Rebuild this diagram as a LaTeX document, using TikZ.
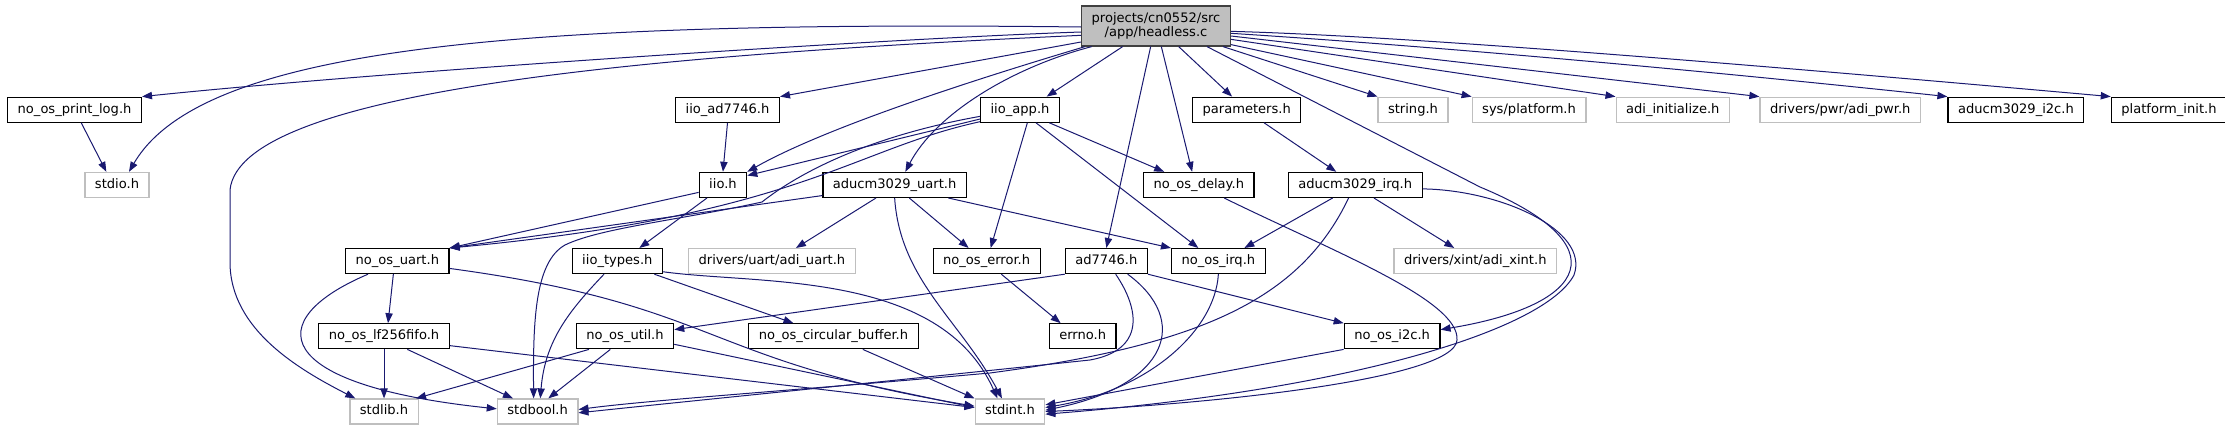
\documentclass[tikz,border=0pt]{standalone}
\usepackage{fontspec}
\setmainfont{DejaVu Sans}
\usepackage{xcolor}
\usepackage{tikz}
\usetikzlibrary{positioning,arrows.meta}

\definecolor{inclblue}{HTML}{191970}
\definecolor{lightframe}{HTML}{BFBFBF}
\definecolor{rootfill}{HTML}{BFBFBF}
\definecolor{rootframe}{HTML}{404040}

\begin{document}
\begin{tikzpicture}[
    x=0.75pt, y=-0.75pt,
    hfile/.style={
        rectangle,draw=black,fill=white,line width=0.9pt,
        minimum height=18.75pt,inner xsep=7.5pt,inner ysep=0pt,
        text height=7.2pt,text depth=2.2pt,
        font=\fontsize{9.8}{10.8}\selectfont
    },
    extfile/.style={hfile,draw=lightframe},
    mainfile/.style={
        hfile,draw=rootframe,fill=rootfill,
        minimum height=30pt,align=center,
        text height=,text depth=
    },
    incl/.style={draw=inclblue,line width=0.75pt,-{Triangle[length=7.5pt,width=5.5pt]}}
]
\useasboundingbox (0,0) rectangle (2225,425);

\node[mainfile] (hdr) at (1156,26) {projects/cn0552/src\\/app/headless.c};

\node[hfile, below left=37.5pt and 15.75pt of hdr] (iioapp) {iio\_app.h};
\node[hfile, right=99pt of iioapp] (params) {parameters.h};
\node[extfile, right=57pt of params] (string) {string.h};
\node[extfile, right=17.25pt of string] (sysplat) {sys/platform.h};
\node[extfile, right=21.75pt of sysplat] (adiinit) {adi\_initialize.h};
\node[extfile, right=22pt of adiinit] (adipwr) {drivers/pwr/adi\_pwr.h};
\node[hfile, right=19.75pt of adipwr] (aducmi2c) {aducm3029\_i2c.h};
\node[hfile, right=19.75pt of aducmi2c] (platinit) {platform\_init.h};
\node[hfile, left=150pt of iioapp] (iioad) {iio\_ad7746.h};
\node[hfile, left=399.75pt of iioad] (printlog) {no\_os\_print\_log.h};

\node[hfile, below left=36.75pt and 9.75pt of iioapp] (aducmuart) {aducm3029\_uart.h};
\node[hfile, left=56.25pt of aducmuart] (iio) {iio.h};
\node[extfile, left=411.75pt of iio] (stdio) {stdio.h};
\node[hfile, right=132pt of aducmuart] (delay) {no\_os\_delay.h};
\node[hfile, below=36.75pt of params, xshift=81.4pt] (aducmirq) {aducm3029\_irq.h};

\node[hfile, below left=37.5pt and 186.75pt of iio] (uart) {no\_os\_uart.h};
\node[hfile, right=91.5pt of uart] (iotypes) {iio\_types.h};
\node[extfile, right=18.75pt of iotypes] (adiuart) {drivers/uart/adi\_uart.h};
\node[hfile, below=37.5pt of aducmuart, xshift=69pt] (error) {no\_os\_error.h};
\node[hfile, right=18pt of error] (ad7746) {ad7746.h};
\node[hfile, right=17.25pt of ad7746] (irq) {no\_os\_irq.h};
\node[extfile, below=37.5pt of aducmirq, xshift=90pt] (adixint) {drivers/xint/adi\_xint.h};

\node[hfile, below=36.75pt of uart, xshift=-10pt] (lf) {no\_os\_lf256fifo.h};
\node[hfile, right=94.5pt of lf] (util) {no\_os\_util.h};
\node[hfile, right=55.5pt of util] (circ) {no\_os\_circular\_buffer.h};
\node[hfile, below=36.75pt of error, xshift=72pt] (errno) {errno.h};
\node[hfile, right=170.25pt of errno] (i2c) {no\_os\_i2c.h};

\node[extfile, below=36.75pt of lf] (stdlib) {stdlib.h};
\node[extfile, right=58.5pt of stdlib] (stdbool) {stdbool.h};
\node[extfile, right=297pt of stdbool] (stdint) {stdint.h};

\draw[incl] ([yshift=-4.5pt]hdr.west) .. controls (900,38) and (400,70) .. (printlog.north east);
\draw[incl] ([yshift=-0.75pt]hdr.west) .. controls (500,20) and (200,50) .. ([xshift=9pt]stdio.north);
\draw[incl] ([yshift=-7pt]hdr.west) .. controls (650,55) and (240,90) .. (230,190) -- (230,262) .. controls (230,330) and (300,370) .. ([xshift=4.5pt]stdlib.north west);
\draw[incl] ([yshift=-12pt]hdr.west) -- (iioad.north east);
\draw[incl] ([xshift=3pt]hdr.south west) .. controls (990,75) and (830,125) .. (iio.north east);
\draw[incl] ([xshift=8pt]hdr.south west) .. controls (1010,68) and (935,115) .. ([xshift=8pt]aducmuart.north);
\draw[incl] ([xshift=-25pt]hdr.south) -- ([xshift=20pt]iioapp.north);
\draw[incl] ([xshift=-4pt]hdr.south) -- (ad7746.north);
\draw[incl] ([xshift=4pt]hdr.south) -- ([xshift=-5pt]delay.north);
\draw[incl] ([xshift=17pt]hdr.south) -- ([xshift=-11pt]params.north);
\draw[incl] ([xshift=-18pt]hdr.south east) -- (1480,187) .. controls (1620,245) and (1590,305) .. ([yshift=5pt]i2c.east);
\draw[incl] ([xshift=-6pt]hdr.south east) -- (string.north west);
\draw[incl] ([yshift=1.5pt]hdr.south east) -- (sysplat.north west);
\draw[incl] ([yshift=-10pt]hdr.east) -- (adiinit.north west);
\draw[incl] ([yshift=-7.5pt]hdr.east) -- (adipwr.north west);
\draw[incl] ([yshift=-5.5pt]hdr.east) .. controls (1400,44) and (1650,65) .. (aducmi2c.north west);
\draw[incl] ([yshift=-4pt]hdr.east) .. controls (1400,36) and (1700,60) .. (platinit.north west);

\draw[incl] ([xshift=5pt]printlog.south) -- ([xshift=-8pt]stdio.north);
\draw[incl] (iioad.south) -- (iio.north);

\draw[incl] ([yshift=-7pt]iioapp.west) -- ([yshift=7pt]iio.east);
\draw[incl] ([yshift=-9pt]iioapp.west) .. controls (850,150) and (800,215) .. (uart.north east);
\draw[incl] ([yshift=-5pt]iioapp.west) .. controls (870,136) and (800,172) .. (762,202) .. controls (680,220) and (600,228) .. (565,245) .. controls (535,262) and (533,320) .. ([xshift=-3pt]stdbool.north);
\draw[incl] ([xshift=5.5pt]iioapp.south) -- ([xshift=3pt]error.north);
\draw[incl] ([xshift=12pt]iioapp.south) -- ([xshift=-15pt]irq.north);
\draw[incl] ([xshift=22pt]iioapp.south) -- ([xshift=-26pt]delay.north);

\draw[incl] ([yshift=-5.6pt]iio.west) -- (uart.north east);
\draw[incl] ([xshift=-12pt]iio.south) -- ([xshift=16.5pt]iotypes.north);

\draw[incl] ([yshift=-8pt]aducmuart.west) -- (uart.north east);
\draw[incl] ([xshift=-14pt]aducmuart.south) -- ([xshift=18pt]adiuart.north);
\draw[incl] ([xshift=11pt]aducmuart.south) -- ([xshift=-13.5pt]error.north);
\draw[incl] (aducmuart.south) .. controls (900,280) and (960,320) .. ([xshift=-6pt]stdint.north);
\draw[incl] ([xshift=-14pt]aducmuart.south east) -- (irq.north west);

\draw[incl] ([xshift=13pt]params.south) -- ([xshift=-14.25pt]aducmirq.north);
\draw[incl] ([xshift=19pt]delay.south) .. controls (1330,250) and (1460,300) .. (1457,340) .. controls (1455,380) and (1200,405) .. (stdint.east);

\draw[incl] ([xshift=-17pt]aducmirq.south) -- ([xshift=19.5pt]irq.north);
\draw[incl] ([xshift=-5pt]aducmirq.south) .. controls (1300,300) and (1200,345) .. (990,373) .. controls (800,390) and (650,400) .. ([yshift=1.5pt]stdbool.east);
\draw[incl] ([xshift=14pt]aducmirq.south) -- ([xshift=-15.75pt]adixint.north);
\draw[incl] ([yshift=-3pt]aducmirq.east) .. controls (1500,190) and (1590,230) .. (1574,275) .. controls (1545,330) and (1350,390) .. ([yshift=-2pt]stdint.east);

\draw[incl] ([xshift=-3pt]uart.south) -- ([xshift=3pt]lf.north);
\draw[incl] ([xshift=-22pt]uart.south) .. controls (260,320) and (270,385) .. ([yshift=2pt]stdbool.west);
\draw[incl] ([yshift=-5.5pt]uart.east) .. controls (720,305) and (700,360) .. ([yshift=4pt]stdint.west);

\draw[incl] ([xshift=-10pt]iotypes.south) .. controls (570,310) and (545,340) .. ([xshift=2pt]stdbool.north);
\draw[incl] ([xshift=27.75pt]iotypes.south) -- ([xshift=-30pt]circ.north);
\draw[incl] ([yshift=-8pt]iotypes.east) .. controls (760,285) and (940,270) .. ([xshift=-9.4pt]stdint.north);

\draw[incl] ([xshift=11pt]error.south) -- ([xshift=-16.5pt]errno.north);

\draw[incl] (ad7746.south west) -- ([yshift=5pt]util.east);
\draw[incl] ([xshift=7pt]ad7746.south) .. controls (1140,310) and (1145,350) .. (1090,360) .. controls (900,380) and (700,400) .. ([yshift=-1pt]stdbool.east);
\draw[incl] ([xshift=16pt]ad7746.south) .. controls (1190,320) and (1170,385) .. ([yshift=1pt]stdint.east);
\draw[incl] (ad7746.south east) -- (i2c.north west);

\draw[incl] (irq.south) .. controls (1215,330) and (1150,390) .. ([yshift=3pt]stdint.east);
\draw[incl] (i2c.south west) -- ([yshift=5pt]stdint.east);

\draw[incl] (lf.south) -- (stdlib.north);
\draw[incl] ([xshift=17.5pt]lf.south) -- ([xshift=-18.5pt]stdbool.north);
\draw[incl] ([yshift=-7pt]lf.east) -- ([yshift=3pt]stdint.west);

\draw[incl] ([xshift=-27pt]util.south) -- ([xshift=-2pt]stdlib.north east);
\draw[incl] ([xshift=-11pt]util.south) -- ([xshift=8pt]stdbool.north);
\draw[incl] ([yshift=-6pt]util.east) -- ([yshift=3pt]stdint.west);

\draw[incl] ([xshift=22pt]circ.south) -- (stdint.north west);
\end{tikzpicture}
\end{document}
